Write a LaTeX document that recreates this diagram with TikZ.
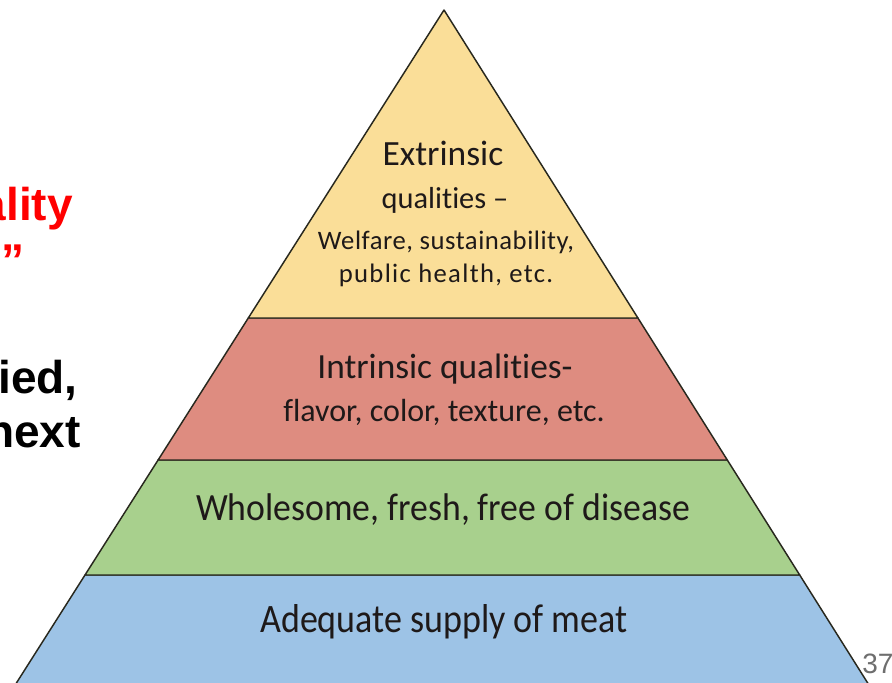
\documentclass[tikz,border=0pt]{standalone}
\usepackage{fontspec}
\setmainfont{Carlito}[Ligatures=NoCommon]
\newfontfamily\arialf{Liberation Sans}
\definecolor{cyel}{RGB}{250,222,152}
\definecolor{cred}{RGB}{222,140,128}
\definecolor{cgrn}{RGB}{168,208,141}
\definecolor{cblu}{RGB}{157,195,230}
\definecolor{ctxt}{RGB}{30,25,25}
\definecolor{cline}{RGB}{40,40,30}
\begin{document}
\begin{tikzpicture}[x=0.75pt,y=-0.75pt,
  layer/.style={draw=cline,line width=1.1pt,line join=round},
  ptext/.style={text=ctxt,inner sep=0pt,anchor=base},
  lefttext/.style={font=\arialf\bfseries\fontsize{34.5pt}{40pt}\selectfont,inner sep=0pt,anchor=base east}]
\useasboundingbox (0,0) rectangle (892,682);
\clip (0,0) rectangle (892,682);
\fill[white] (0,0) rectangle (892,682);
% layers
\filldraw[layer,fill=cblu] (85.0,575) -- (799.7,575) -- (878.4,700) -- (5.6,700) -- cycle;
\filldraw[layer,fill=cgrn] (158.1,460) -- (727.3,460) -- (799.7,575) -- (85.0,575) -- cycle;
\filldraw[layer,fill=cred] (248.3,318) -- (637.9,318) -- (727.3,460) -- (158.1,460) -- cycle;
\filldraw[layer,fill=cyel] (444,10) -- (637.9,318) -- (248.3,318) -- cycle;
% pyramid texts
\node[ptext,font=\fontsize{26.6pt}{30pt}\selectfont] (ext1) at (443,165) {Extrinsic};
\node[ptext,font=\fontsize{22.8pt}{26pt}\selectfont] (ext2) at (445,208) {qualities –};
\node[ptext,font=\fontsize{20pt}{24pt}\selectfont\addfontfeature{LetterSpace=2}] (ext3) at (446,249) {Welfare, sustainability,};
\node[ptext,font=\fontsize{20pt}{24pt}\selectfont\addfontfeature{LetterSpace=5}] (ext4) at (446,282) {public health, etc.};
\node[ptext,font=\fontsize{26.5pt}{30pt}\selectfont] (int1) at (445,378) {Intrinsic qualities-};
\node[ptext,font=\fontsize{24pt}{28pt}\selectfont] (int2) at (444,421) {flavor, color, texture, etc.};
\node[ptext,font=\fontsize{26.8pt}{30pt}\selectfont] (who) at (443,520) {\scalebox{1}[1.08]{Wholesome, fresh, free of disease}};
\node[ptext,font=\fontsize{27pt}{30pt}\selectfont] (ade) at (444,632) {\scalebox{1}[1.12]{Adequate supply of meat}};
% left cut-off texts
\node[lefttext,text={rgb,255:red,255;green,0;blue,0}] (r1) at (73,220) {ality};
\node[lefttext,text={rgb,255:red,255;green,0;blue,0}] (r2) at (25,276) {”};
\node[lefttext,text=black] (b1) at (78,393) {ied,};
\node[lefttext,text=black] (b2) at (81,447) {next};
% page number
\node[font=\arialf\fontsize{21pt}{24pt}\selectfont,text={rgb,255:red,110;green,110;blue,110},inner sep=0pt,anchor=base west] (pg) at (862,673) {37};
\end{tikzpicture}
\end{document}
